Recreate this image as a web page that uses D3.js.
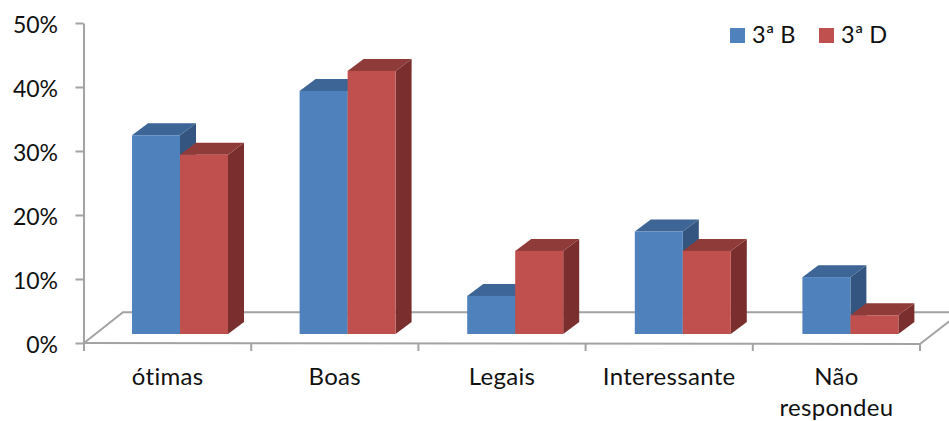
<!DOCTYPE html>
<html>
<head>
<meta charset="utf-8">
<script src="https://cdn.jsdelivr.net/npm/d3@7"></script>
<style>
html,body{margin:0;padding:0;background:#fff;overflow:hidden}
svg{display:block}
text{font-family:Lato,"Open Sans",sans-serif;fill:#111}
</style>
</head>
<body>
<svg id="c" width="949" height="421"></svg>
<script>
const categories = ["ótimas","Boas","Legais","Interessante","Não respondeu"];
const seriesNames = ["3ª B","3ª D"];
const valuesB = [31.8,38.9,6.1,16.4,9.1];
const valuesD = [28.7,42.1,13.3,13.3,3.0];
const yTicks = [0,10,20,30,40,50];
const seriesColors = [
  {front:"#4f81bd",top:"#3d6595",side:"#33557f"},
  {front:"#c0504d",top:"#8f3b39",side:"#7a2f2e"}
];
const svg = d3.select("#c");
const axisColor = "#a3a3a3";
const dx = 16, dy = -12;

const yAxis = d3.scaleLinear().domain([0,50]).range([343,23]);
const yBar  = d3.scaleLinear().domain([0,50]).range([334,21.5]);
const xBand = d3.scaleBand().domain(categories).range([84,920]);
const xBars = d3.scaleBand().domain(categories).range([84,922]);
const xInner = d3.scaleBand().domain([0,1]).range([48,144]);

// floor
const floorG = svg.append("g").attr("fill","none").attr("stroke",axisColor).attr("stroke-width",2);
floorG.append("path").attr("d",d3.line()([[84,343],[123,312.3],[960,312.3]]));
floorG.append("path").attr("d",d3.line()([[920,344],[960,313]]));

// value axis
const gy = svg.append("g").attr("transform","translate(83.5,0)")
  .call(d3.axisLeft(yAxis).tickValues(yTicks).tickFormat(d=>d+"%").tickSize(8).tickSizeOuter(0));
gy.select(".domain").attr("stroke",axisColor).attr("stroke-width",2);
gy.selectAll(".tick line").attr("stroke",axisColor).attr("stroke-width",2);
gy.selectAll(".tick text").attr("font-size",23).attr("font-family","Lato,sans-serif").attr("fill","#111")
  .attr("dy","0.41em").attr("x",-25.5);

// category axis
const xEdges = categories.map(c=>xBand(c)).concat([920]);
svg.append("g").attr("stroke",axisColor).attr("stroke-width",2).call(g=>{
  g.append("line").attr("x1",83).attr("x2",921).attr("y1",343).attr("y2",344);
  g.selectAll(".t").data(xEdges).join("line").attr("class","t")
    .attr("x1",d=>d).attr("x2",d=>d).attr("y1",343).attr("y2",351);
});
const lab = svg.append("g").attr("text-anchor","middle").attr("font-size",24).attr("letter-spacing","0.3px");
categories.forEach(c=>{
  const cx = xBand(c)+xBand.bandwidth()/2;
  const parts = c==="Não respondeu" ? ["Não","respondeu"] : [c];
  parts.forEach((p,i)=>lab.append("text").attr("x",cx).attr("y",385+i*31).text(p));
});

// bars: back to front, left to right
categories.forEach((c,ci)=>{
  [valuesB[ci],valuesD[ci]].forEach((v,si)=>{
    const col = seriesColors[si];
    const x0 = xBars(c)+xInner(si), x1 = x0+xInner.bandwidth();
    const yt = yBar(v), yb = yBar(0);
    const g = svg.append("g");
    g.append("path").attr("fill",col.side)
      .attr("d",d3.line()([[x1,yb],[x1+dx,yb+dy],[x1+dx,yt+dy],[x1,yt]])+"Z");
    g.append("path").attr("fill",col.top)
      .attr("d",d3.line()([[x0,yt],[x0+dx,yt+dy],[x1+dx,yt+dy],[x1,yt]])+"Z");
    g.append("rect").attr("x",x0).attr("y",yt).attr("width",x1-x0).attr("height",yb-yt).attr("fill",col.front);
  });
});

// legend
const legendX = d3.scaleOrdinal().domain(seriesNames).range([730,819]);
seriesNames.forEach((n,i)=>{
  const x = legendX(n);
  svg.append("rect").attr("x",x).attr("y",28).attr("width",15).attr("height",15).attr("fill",seriesColors[i].front);
  svg.append("text").attr("x",x+22).attr("y",43).attr("font-size",23.5).text(n);
});
</script>
</body>
</html>
